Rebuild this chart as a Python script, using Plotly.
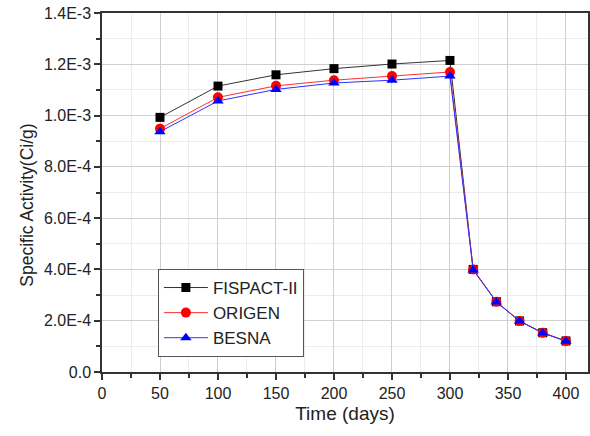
import plotly.graph_objects as go

days = [50, 100, 150, 200, 250, 300, 320, 340, 360, 380, 400]
fispact = [0.993e-3, 1.115e-3, 1.159e-3, 1.183e-3, 1.201e-3, 1.215e-3, 0.400e-3, 0.274e-3, 0.199e-3, 0.153e-3, 0.121e-3]
origen = [0.949e-3, 1.071e-3, 1.116e-3, 1.138e-3, 1.154e-3, 1.170e-3, 0.400e-3, 0.274e-3, 0.199e-3, 0.153e-3, 0.121e-3]
besna = [0.937e-3, 1.057e-3, 1.102e-3, 1.127e-3, 1.138e-3, 1.154e-3, 0.398e-3, 0.273e-3, 0.198e-3, 0.152e-3, 0.120e-3]

y_tickvals = [0, 2e-4, 4e-4, 6e-4, 8e-4, 1.0e-3, 1.2e-3, 1.4e-3]
y_ticktext = ["0.0", "2.0E-4", "4.0E-4", "6.0E-4", "8.0E-4", "1.0E-3", "1.2E-3", "1.4E-3"]
x_tickvals = [0, 50, 100, 150, 200, 250, 300, 350, 400]

fig = go.Figure()
fig.add_trace(go.Scatter(x=days, y=fispact, name="FISPACT-II", mode="lines+markers",
                         line=dict(color="#333333", width=1),
                         marker=dict(symbol="square", size=9, color="black")))
fig.add_trace(go.Scatter(x=days, y=origen, name="ORIGEN", mode="lines+markers",
                         line=dict(color="#ff3030", width=1),
                         marker=dict(symbol="circle", size=10, color="red")))
fig.add_trace(go.Scatter(x=days, y=besna, name="BESNA", mode="lines+markers",
                         line=dict(color="#3030ff", width=1),
                         marker=dict(symbol="triangle-up", size=10, color="blue")))

fam = "Liberation Sans, Arial, sans-serif"
axis_font = dict(family=fam, size=16, color="#222")
fig.update_layout(
    width=590, height=436,
    margin=dict(l=102, r=2, t=13, b=64),
    paper_bgcolor="white", plot_bgcolor="white",
    font=dict(family=fam, color="#222"),
    showlegend=True,
    legend=dict(x=0.115, y=0.287, xanchor="left", yanchor="top",
                bgcolor="white", bordercolor="#555", borderwidth=1,
                font=dict(size=17, family=fam, color="#222"),
                tracegroupgap=0, itemwidth=44, entrywidth=118),
    xaxis=dict(range=[0, 419], tickvals=x_tickvals, tickfont=axis_font,
               title=dict(text="Time (days)", font=dict(size=19), standoff=6),
               showline=True, linecolor="#333", linewidth=1.5, mirror=True,
               ticks="outside", ticklen=6, tickcolor="#333", tickwidth=1.5,
               showgrid=True, gridcolor="#cfcfcf", gridwidth=1, zeroline=False,
               automargin=False,
               minor=dict(dtick=25, tick0=0, ticks="outside", ticklen=4, tickcolor="#333",
                          showgrid=True, gridcolor="#ececec")),
    yaxis=dict(range=[0, 1.4e-3], tickvals=y_tickvals, ticktext=y_ticktext, tickfont=axis_font,
               showline=True, linecolor="#333", linewidth=1.5, mirror=True,
               ticks="outside", ticklen=6, tickcolor="#333", tickwidth=1.5,
               showgrid=True, gridcolor="#cfcfcf", gridwidth=1, zeroline=False,
               automargin=False,
               minor=dict(dtick=1e-4, tick0=0, ticks="outside", ticklen=4, tickcolor="#333",
                          showgrid=True, gridcolor="#ececec")),
    annotations=[dict(text="Specific Activity(Ci/g)", textangle=-90, showarrow=False,
                      xref="paper", yref="paper", x=-0.155, y=0.465,
                      xanchor="center", yanchor="middle",
                      font=dict(size=17.5, family=fam, color="#222"))],
)

fig.write_html("out.html", post_script="document.body.style.margin='0';",
               config={"displayModeBar": False})
